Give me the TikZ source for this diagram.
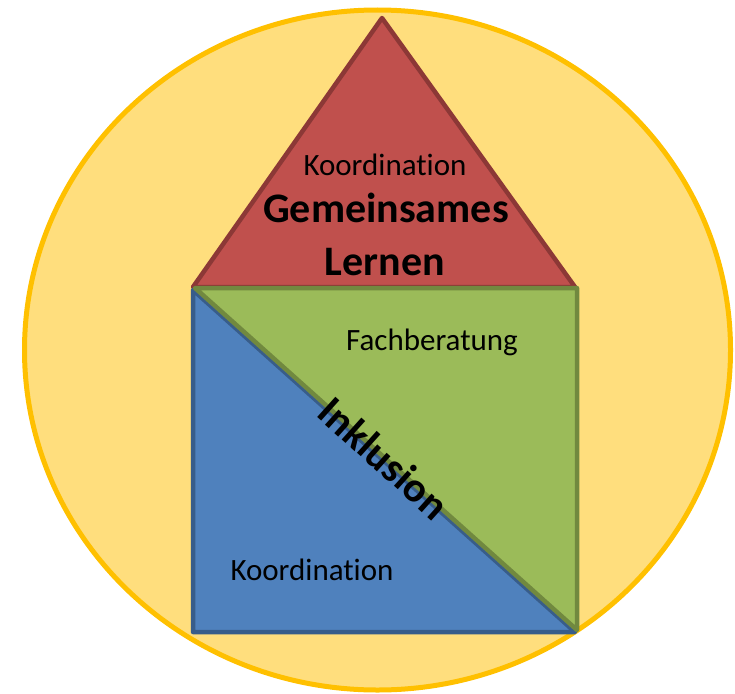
\documentclass[tikz,border=0pt]{standalone}
\usepackage{fontspec}
\setmainfont[Ligatures={NoCommon}]{Carlito}
\definecolor{ringfill}{RGB}{255,222,125}
\definecolor{ringline}{RGB}{255,192,0}
\definecolor{roofill}{RGB}{192,80,77}
\definecolor{rooline}{RGB}{140,56,54}
\definecolor{grnfill}{RGB}{155,187,89}
\definecolor{grnline}{RGB}{113,137,63}
\definecolor{blufill}{RGB}{79,129,189}
\definecolor{bluline}{RGB}{56,93,138}
\tikzset{
  lbl/.style={font=\fontsize{31}{37}\selectfont, text=black, inner sep=0pt, anchor=base},
  biglbl/.style={font=\fontsize{42}{50}\selectfont\bfseries, text=black, inner sep=0pt, anchor=base},
  part/.style={line width=4.5pt, line join=round}
}
\begin{document}
\begin{tikzpicture}[x=1pt,y=-1pt]
\useasboundingbox (0,0) rectangle (735,693);
% outer circle
\draw[fill=ringfill, draw=ringline, line width=5pt] (377.5,350) ellipse [x radius=353, y radius=340];
% roof
\draw[part, fill=roofill, draw=rooline] (382,18) -- (575,287) -- (193,287) -- cycle;
% blue lower triangle
\draw[part, fill=blufill, draw=bluline] (193,290) -- (193,632) -- (575,632) -- cycle;
% green upper triangle
\draw[part, fill=grnfill, draw=grnline] (195,288) -- (577,288) -- (577,630) -- cycle;
% texts
\node[lbl] (k1) at (385,175) {Koordination};
\node[biglbl] (g) at (386,222) {Gemeinsames};
\node[biglbl] (l) at (385,275) {Lernen};
\node[lbl] (f) at (432,350) {Fachberatung};
\node[lbl] (k2) at (312,580) {Koordination};
\node[font=\fontsize{42}{50}\selectfont\bfseries, inner sep=0pt, rotate=-42] (ink) at (384,458) {Inklusion};
\end{tikzpicture}
\end{document}
